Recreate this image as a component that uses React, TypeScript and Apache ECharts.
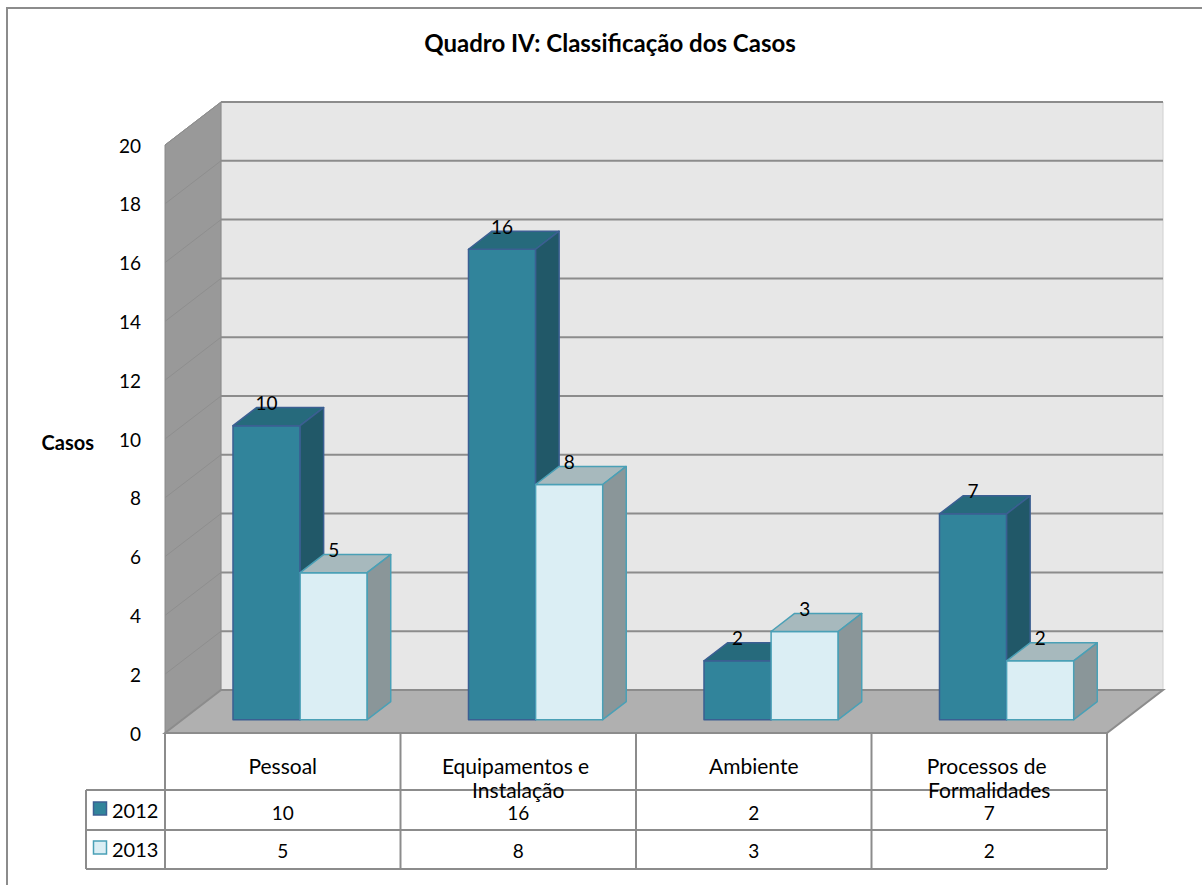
import React, { useEffect, useRef } from "react";
import * as echarts from "echarts";

// ---------- data ----------
const TITLE = "Quadro IV: Classificação dos Casos";
const Y_NAME = "Casos";
const CATEGORIES = ["Pessoal", "Equipamentos e Instalação", "Ambiente", "Processos de Formalidades"];
const SERIES_NAMES = ["2012", "2013"];
const VALUES_2012 = [10, 16, 2, 7];
const VALUES_2013 = [5, 8, 3, 2];
const Y_MIN = 0;
const Y_MAX = 20;
const Y_STEP = 2;

// ---------- layout / style ----------
const W = 1202;
const H = 885;
const PLOT_LEFT = 165;
const PLOT_RIGHT = 1107;
const PLOT_TOP = 145;
const PLOT_BOTTOM = 733;
const DEPTH = [56, -43];
const BAR_FRONT = 0.31;
const BAR_BACK = 0.73;
const BAR_RATIO = 0.285;
const FONT = 'Lato, "Open Sans", sans-serif';
const FS = 19;
const FS_TEXT = 21;

const COLORS = [
  { front: "#31849b", top: "#266a7c", side: "#215868", stroke: "#3b5f92" },
  { front: "#dbeef4", top: "#a7b9bd", side: "#8a9699", stroke: "#4aa0b6" },
];
const SERIES_VALUES = [VALUES_2012, VALUES_2013];

const TABLE_TOP = PLOT_BOTTOM;
const HEADER_BOTTOM = 790;
const ROW1_BOTTOM = 830;
const ROW2_BOTTOM = 869;
const LEGEND_LEFT = 86;
const LINE = "#8c8c8c";

function wallsRender(params: any, api: any) {
  const c0 = api.coord([0, Y_MIN]);
  const c1 = api.coord([1, Y_MIN]);
  const band = c1[0] - c0[0];
  const left = c0[0] - band / 2;
  const right = api.coord([CATEGORIES.length - 1, Y_MIN])[0] + band / 2;
  const yb = c0[1];
  const yt = api.coord([0, Y_MAX])[1];
  const [dx, dy] = DEPTH;
  const children: any[] = [];
  children.push({
    type: "polygon",
    shape: { points: [[left + dx, yt + dy], [right + dx, yt + dy], [right + dx, yb + dy], [left + dx, yb + dy]] },
    style: { fill: "#e7e7e7", stroke: "#d0d0d0", lineWidth: 1 },
  });
  children.push({
    type: "polygon",
    shape: { points: [[left, yt], [left + dx, yt + dy], [left + dx, yb + dy], [left, yb]] },
    style: { fill: "#999999", stroke: "#8a8a8a", lineWidth: 1 },
  });
  children.push({
    type: "polygon",
    shape: { points: [[left, yb], [left + dx, yb + dy], [right + dx, yb + dy], [right, yb]] },
    style: { fill: "#b0b0b0", stroke: "#8c8c8c", lineWidth: 2 },
  });
  for (let v = Y_MIN; v <= Y_MAX; v += Y_STEP) {
    const y = api.coord([0, v])[1];
    if (v > Y_MIN) {
      children.push({
        type: "line",
        shape: { x1: left + dx, y1: y + dy, x2: right + dx, y2: y + dy },
        style: { stroke: "#8c8c8c", lineWidth: 2 },
      });
      children.push({
        type: "line",
        shape: { x1: left, y1: y, x2: left + dx, y2: y + dy },
        style: { stroke: "#8e8e8e", lineWidth: 1 },
      });
    }
  }
  return { type: "group", children };
}

function makeBarSeries(seriesIdx: number) {
  const col = COLORS[seriesIdx];
  const values = SERIES_VALUES[seriesIdx];
  return {
    type: "custom",
    name: SERIES_NAMES[seriesIdx],
    data: values.map((v, i) => [i, v]),
    renderItem: (params: any, api: any) => {
      const i = api.value(0);
      const v = api.value(1);
      const base = api.coord([i, Y_MIN]);
      const topC = api.coord([i, v]);
      const band = api.coord([1, Y_MIN])[0] - api.coord([0, Y_MIN])[0];
      const bw = band * BAR_RATIO;
      const fx = DEPTH[0] * BAR_FRONT;
      const fy = DEPTH[1] * BAR_FRONT;
      const bx = DEPTH[0] * BAR_BACK;
      const by = DEPTH[1] * BAR_BACK;
      const xl = base[0] - bw + seriesIdx * bw;
      const xr = xl + bw;
      const y0 = base[1];
      const y1 = topC[1];
      const stroke = { stroke: col.stroke, lineWidth: 1.5, lineJoin: "round" };
      return {
        type: "group",
        children: [
          {
            type: "polygon",
            shape: { points: [[xl + fx, y0 + fy], [xr + fx, y0 + fy], [xr + fx, y1 + fy], [xl + fx, y1 + fy]] },
            style: { fill: col.front, ...stroke },
          },
          {
            type: "polygon",
            shape: { points: [[xl + fx, y1 + fy], [xr + fx, y1 + fy], [xr + bx, y1 + by], [xl + bx, y1 + by]] },
            style: { fill: col.top, ...stroke },
          },
          {
            type: "polygon",
            shape: { points: [[xr + fx, y0 + fy], [xr + bx, y0 + by], [xr + bx, y1 + by], [xr + fx, y1 + fy]] },
            style: { fill: col.side, ...stroke },
          },
          {
            type: "text",
            style: {
              text: String(v),
              x: (xl + xr) / 2 + fx,
              y: y1 + by - 5,
              align: "center",
              verticalAlign: "middle",
              fill: "#000",
              fontSize: FS,
              fontFamily: FONT,
            },
          },
        ],
      };
    },
    z: 3,
  };
}

function buildTable() {
  const els: any[] = [];
  const n = CATEGORIES.length;
  const band = (PLOT_RIGHT - PLOT_LEFT) / n;
  const line = (x1: number, y1: number, x2: number, y2: number) =>
    els.push({ type: "line", shape: { x1, y1, x2, y2 }, style: { stroke: LINE, lineWidth: 2 }, z: 10 });
  for (let k = 0; k <= n; k++) {
    const x = PLOT_LEFT + k * band;
    line(x, TABLE_TOP, x, ROW2_BOTTOM);
  }
  line(LEGEND_LEFT, HEADER_BOTTOM, LEGEND_LEFT, ROW2_BOTTOM);
  line(LEGEND_LEFT, HEADER_BOTTOM, PLOT_RIGHT, HEADER_BOTTOM);
  line(LEGEND_LEFT, ROW1_BOTTOM, PLOT_RIGHT, ROW1_BOTTOM);
  line(LEGEND_LEFT, ROW2_BOTTOM, PLOT_RIGHT, ROW2_BOTTOM);
  CATEGORIES.forEach((c, k) => {
    const cx = PLOT_LEFT + (k + 0.5) * band;
    els.push({
      type: "text",
      z: 11,
      style: {
        text: c,
        x: cx,
        y: 753,
        width: 175,
        overflow: "break",
        lineHeight: 24,
        align: "center",
        verticalAlign: "top",
        fill: "#000",
        fontSize: FS_TEXT,
        fontFamily: FONT,
      },
    });
    [VALUES_2012, VALUES_2013].forEach((vals, r) => {
      els.push({
        type: "text",
        z: 11,
        style: {
          text: String(vals[k]),
          x: cx,
          y: r === 0 ? 812 : 850,
          align: "center",
          verticalAlign: "middle",
          fill: "#000",
          fontSize: FS,
          fontFamily: FONT,
        },
      });
    });
  });
  SERIES_NAMES.forEach((name, r) => {
    const cy = r === 0 ? 809 : 848;
    els.push({
      type: "rect",
      z: 11,
      shape: { x: 93.5, y: cy - 7, width: 13, height: 13 },
      style: { fill: COLORS[r].front, stroke: COLORS[r].stroke, lineWidth: 1.5 },
    });
    els.push({
      type: "text",
      z: 11,
      style: {
        text: name,
        x: 112,
        y: cy + 1,
        align: "left",
        verticalAlign: "middle",
        fill: "#000",
        fontSize: 20,
        fontFamily: FONT,
      },
    });
  });
  return els;
}

export default function App() {
  const ref = useRef<HTMLDivElement>(null);
  useEffect(() => {
    if (!ref.current) return;
    const chart = echarts.init(ref.current, undefined, { renderer: "svg" });
    chart.setOption({
      animation: false,
      backgroundColor: "#ffffff",
      grid: { left: PLOT_LEFT, right: W - PLOT_RIGHT, top: PLOT_TOP, bottom: H - PLOT_BOTTOM },
      xAxis: {
        type: "category",
        data: CATEGORIES,
        axisLine: { show: false },
        axisTick: { show: false },
        axisLabel: { show: false },
        splitLine: { show: false },
      },
      yAxis: {
        type: "value",
        min: Y_MIN,
        max: Y_MAX,
        interval: Y_STEP,
        axisLine: { show: false },
        axisTick: { show: false },
        splitLine: { show: false },
        axisLabel: { margin: 24, color: "#000", fontSize: FS, fontFamily: FONT },
      },
      series: [
        { type: "custom", data: [[0, 0]], renderItem: wallsRender, silent: true, z: 1 },
        makeBarSeries(0),
        makeBarSeries(1),
      ],
      graphic: [
        {
          type: "rect",
          shape: { x: 7, y: 8, width: 1250, height: 950 },
          style: { fill: "none", stroke: LINE, lineWidth: 2 },
          silent: true,
        },
        {
          type: "text",
          style: {
            text: TITLE,
            x: 610,
            y: 42,
            align: "center",
            verticalAlign: "middle",
            fill: "#000",
            fontSize: 24,
            fontWeight: "bold",
            fontFamily: FONT,
          },
        },
        {
          type: "text",
          style: {
            text: Y_NAME,
            x: 94,
            y: 442,
            align: "right",
            verticalAlign: "middle",
            fill: "#000",
            fontSize: 20,
            fontWeight: "bold",
            fontFamily: FONT,
          },
        },
        ...buildTable(),
      ],
    });
    return () => chart.dispose();
  }, []);
  return <div ref={ref} style={{ position: "absolute", left: 0, top: 0, width: W, height: H }} />;
}
